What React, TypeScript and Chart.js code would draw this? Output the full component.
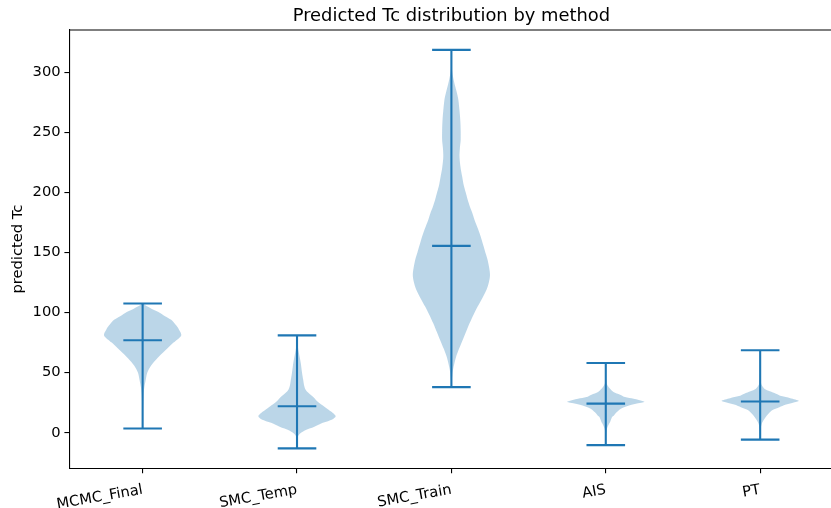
import { useEffect, useRef } from "react";
import { Chart, registerables } from "chart.js";

Chart.register(...registerables);

// Methods and per-method summary statistics (predicted Tc)
const methods = ["MCMC_Final", "SMC_Temp", "SMC_Train", "AIS", "PT"];
const minValues = [3.5, -13, 38, -10.3, -5.7];
const meanValues = [77, 22, 155.5, 24.2, 26];
const maxValues = [107.5, 81, 318.5, 58, 68.7];
const yTicks = [0, 50, 100, 150, 200, 250, 300];

// Kernel density profiles: value levels and relative density (peak = 1)
const mcmcFinalLevels = [3.5, 15, 25, 32, 37, 43, 50, 56, 62, 68, 75, 81, 86, 90, 94, 97, 100.5, 103, 106, 107.5];
const mcmcFinalDensity = [0.005, 0.008, 0.015, 0.025, 0.04, 0.075, 0.12, 0.22, 0.38, 0.57, 0.8, 1.0, 0.94, 0.85, 0.74, 0.58, 0.41, 0.24, 0.07, 0.02];

const smcTempLevels = [-13, -6, -2, 1.9, 5, 7.5, 10.3, 13.6, 17.2, 20, 22.8, 26, 29.7, 33, 36, 40, 44, 50, 57.5, 62, 67, 71, 76, 81];
const smcTempDensity = [0.005, 0.01, 0.04, 0.2, 0.45, 0.61, 0.86, 1.0, 0.9, 0.78, 0.66, 0.53, 0.42, 0.3, 0.22, 0.18, 0.16, 0.13, 0.1, 0.075, 0.045, 0.025, 0.01, 0.003];

const smcTrainLevels = [38, 44, 52, 58, 63, 70, 77, 84, 91, 98, 105, 112, 119, 125, 131, 137, 143.6, 150, 155.5, 160, 166, 172, 177, 183, 188, 194, 200, 206, 213, 220, 229.7, 237, 243.6, 252, 260, 268, 277, 283, 288, 295, 302, 310, 318.5];
const smcTrainDensity = [0.004, 0.013, 0.04, 0.08, 0.12, 0.2, 0.29, 0.38, 0.47, 0.57, 0.68, 0.8, 0.91, 0.97, 1.0, 0.98, 0.94, 0.88, 0.83, 0.79, 0.73, 0.66, 0.6, 0.54, 0.48, 0.42, 0.37, 0.32, 0.28, 0.24, 0.21, 0.22, 0.24, 0.24, 0.23, 0.21, 0.18, 0.14, 0.1, 0.05, 0.015, 0.005, 0.002];

const aisLevels = [-10.3, -4, -2.2, 3.3, 7.5, 8.8, 13, 14.4, 17, 20, 23.3, 25.5, 26.1, 28.3, 29.7, 31.7, 34, 36.7, 39, 42, 47, 52, 58];
const aisDensity = [0.003, 0.005, 0.008, 0.03, 0.085, 0.11, 0.16, 0.21, 0.28, 0.39, 0.67, 1.0, 0.99, 0.72, 0.5, 0.37, 0.2, 0.11, 0.05, 0.015, 0.006, 0.004, 0.002];

const ptLevels = [-5.7, 0, 3.3, 7.5, 10, 13, 16, 18.6, 21.3, 23.3, 25, 26.6, 28.8, 30.5, 32.5, 34.5, 36.7, 39, 41, 45, 55, 68.7];
const ptDensity = [0.003, 0.005, 0.013, 0.04, 0.08, 0.14, 0.22, 0.3, 0.5, 0.65, 0.85, 1.0, 0.78, 0.55, 0.41, 0.25, 0.11, 0.05, 0.025, 0.01, 0.005, 0.002];

const profileLevels = [mcmcFinalLevels, smcTempLevels, smcTrainLevels, aisLevels, ptLevels];
const profileDensity = [mcmcFinalDensity, smcTempDensity, smcTrainDensity, aisDensity, ptDensity];

const BLUE = "#1f77b4";
const BODY_FILL = "rgba(31,119,180,0.3)";
const FONT = '"DejaVu Sans", "Liberation Sans", sans-serif';
const TITLE = "Predicted Tc distribution by method";

const VIOLIN_WIDTH = 0.5; // full width of a violin in category units
const CAP_HALF = VIOLIN_WIDTH / 4;

function buildDatasets() {
  const bodies: any[] = [];
  const lines: any[] = [];
  methods.forEach((_, i) => {
    const pos = i + 1;
    const lv = profileLevels[i];
    const dn = profileDensity[i];
    const left = lv.map((y, k) => ({ x: pos - (VIOLIN_WIDTH / 2) * dn[k], y }));
    const right = lv
      .map((y, k) => ({ x: pos + (VIOLIN_WIDTH / 2) * dn[k], y }))
      .reverse();
    bodies.push({
      data: [...left, ...right, left[0]],
      showLine: true,
      fill: "shape",
      backgroundColor: BODY_FILL,
      borderWidth: 0,
      borderColor: "rgba(0,0,0,0)",
      pointRadius: 0,
      tension: 0.3,
      order: 2,
    });
    const seg = (pts: { x: number; y: number }[]) => ({
      data: pts,
      showLine: true,
      fill: false,
      borderColor: BLUE,
      borderWidth: 2.1,
      pointRadius: 0,
      tension: 0,
      order: 1,
    });
    lines.push(seg([{ x: pos, y: minValues[i] }, { x: pos, y: maxValues[i] }]));
    lines.push(seg([{ x: pos - CAP_HALF, y: minValues[i] }, { x: pos + CAP_HALF, y: minValues[i] }]));
    lines.push(seg([{ x: pos - CAP_HALF, y: maxValues[i] }, { x: pos + CAP_HALF, y: maxValues[i] }]));
    lines.push(seg([{ x: pos - CAP_HALF, y: meanValues[i] }, { x: pos + CAP_HALF, y: meanValues[i] }]));
  });
  return [...bodies, ...lines];
}

const framePlugin = {
  id: "frameAndTitle",
  afterDraw(chart: any) {
    const { ctx, chartArea: a } = chart;
    ctx.save();
    ctx.strokeStyle = "#000";
    ctx.lineWidth = 1.1;
    ctx.beginPath();
    ctx.moveTo(a.left, a.top);
    ctx.lineTo(a.right, a.top);
    ctx.stroke();
    ctx.fillStyle = "#000";
    ctx.font = `17.9px ${FONT}`;
    ctx.textAlign = "center";
    ctx.textBaseline = "alphabetic";
    ctx.fillText(TITLE, (a.left + a.right) / 2, a.top - 9);
    ctx.restore();
  },
};

export default function App() {
  const canvasRef = useRef<HTMLCanvasElement | null>(null);

  useEffect(() => {
    document.body.style.margin = "0";
    const canvas = canvasRef.current;
    if (!canvas) return;

    const allValues = [...minValues, ...maxValues];
    const lo = Math.min(...allValues);
    const hi = Math.max(...allValues);
    const pad = (hi - lo) * 0.05;
    const xLo = 1 - VIOLIN_WIDTH / 2;
    const xHi = methods.length + VIOLIN_WIDTH / 2;
    const xPad = (xHi - xLo) * 0.05;

    const chart = new Chart(canvas, {
      type: "scatter",
      data: { datasets: buildDatasets() },
      plugins: [framePlugin],
      options: {
        animation: false,
        responsive: false,
        devicePixelRatio: 1,
        layout: { padding: { top: 30, right: 0.5, left: 0, bottom: 0 } },
        plugins: {
          legend: { display: false },
          tooltip: { enabled: false },
          title: { display: false },
        },
        scales: {
          x: {
            type: "linear",
            min: xLo - xPad,
            max: xHi + xPad,
            afterFit: (s: any) => {
              s.height = 39.7;
            },
            afterBuildTicks: (s: any) => {
              s.ticks = methods.map((_, i) => ({ value: i + 1 }));
            },
            ticks: {
              callback: (v: any) => methods[Math.round(Number(v)) - 1] ?? "",
              autoSkip: false,
              minRotation: 10,
              maxRotation: 10,
              padding: 8,
              color: "#000",
              font: { family: FONT, size: 14.7 },
            },
            grid: {
              display: true,
              drawOnChartArea: false,
              drawTicks: true,
              tickLength: 4.9,
              color: "#000",
              lineWidth: 1.1,
            },
            border: { display: true, color: "#000", width: 1.1 },
          },
          y: {
            type: "linear",
            min: lo - pad,
            max: hi + pad,
            afterFit: (s: any) => {
              s.width = 69.3;
            },
            afterBuildTicks: (s: any) => {
              s.ticks = yTicks.map((v) => ({ value: v }));
            },
            ticks: {
              padding: 3.8,
              color: "#000",
              font: { family: FONT, size: 14.7 },
            },
            grid: {
              display: true,
              drawOnChartArea: false,
              drawTicks: true,
              tickLength: 4.9,
              color: "#000",
              lineWidth: 1.1,
            },
            border: { display: true, color: "#000", width: 1.1 },
            title: {
              display: true,
              text: "predicted Tc",
              color: "#000",
              font: { family: FONT, size: 14.7 },
              padding: { top: 9.5, bottom: 0 },
            },
          },
        },
      },
    } as any);

    return () => chart.destroy();
  }, []);

  return (
    <div
      style={{
        position: "absolute",
        left: 0,
        top: 0,
        width: 831,
        height: 508,
        overflow: "hidden",
        background: "#fff",
      }}
    >
      <canvas ref={canvasRef} width={834} height={508} style={{ display: "block", width: 834, height: 508 }} />
    </div>
  );
}
